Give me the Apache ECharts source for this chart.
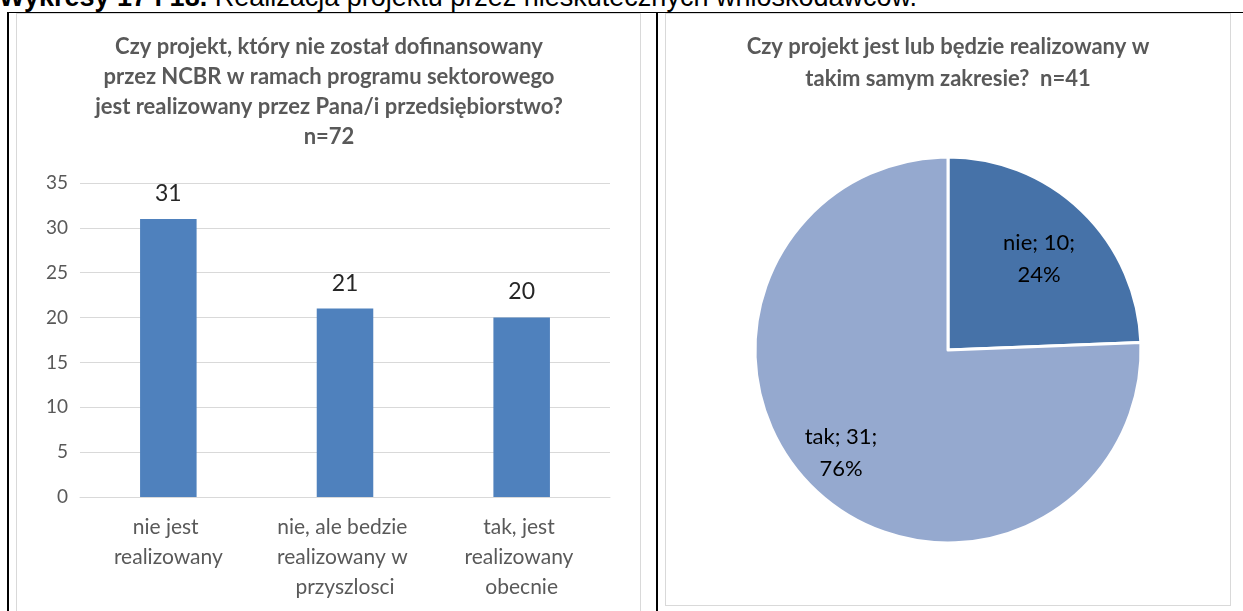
<!DOCTYPE html>
<html>
<head>
<meta charset="utf-8">
<script src="https://cdn.jsdelivr.net/npm/echarts@6/dist/echarts.min.js"></script>
<style>
  html, body { margin:0; padding:0; background:#fff; }
  #wrap { position:relative; width:1243px; height:611px; overflow:hidden; background:#fff; }
  .ln { position:absolute; }
  #heading { position:absolute; left:-1px; top:-16px; font-family:"Liberation Sans", Arial, sans-serif; font-size:27px; line-height:27px; color:#000; white-space:nowrap; }
  #chart { position:absolute; left:0; top:0; width:1243px; height:611px; }
</style>
</head>
<body>
<div id="wrap">
  <div id="heading"><b>Wykresy 17 i 18.</b> Realizacja projektu przez nieskutecznych wnioskodawców.</div>
  <div class="ln" style="left:16px;top:13px;width:623px;height:620px;border:1.5px solid #d9d9d9;"></div>
  <div class="ln" style="left:665px;top:13px;width:563.5px;height:591px;border:1.5px solid #d9d9d9;"></div>
  <div class="ln" style="left:7.25px;top:11.5px;width:1240px;height:1.5px;background:#000;"></div>
  <div class="ln" style="left:7.25px;top:11.5px;width:1.5px;height:600px;background:#000;"></div>
  <div class="ln" style="left:655.75px;top:11.5px;width:2px;height:600px;background:#000;"></div>
  <div id="chart"></div>
</div>
<script>
// ---- data ----
const barTitle = "Czy projekt, który nie został dofinansowany\nprzez NCBR w ramach programu sektorowego\njest realizowany przez Pana/i przedsiębiorstwo?\nn=72";
const barCategories = ["nie jest realizowany", "nie, ale bedzie realizowany w przyszlosci", "tak, jest realizowany obecnie"];
const barValues = [31, 21, 20];
const yTicks = { min: 0, max: 35, interval: 5 };

const pieTitle = "Czy projekt jest lub będzie realizowany w\ntakim samym zakresie?  n=41";
const pieNames = ["nie", "tak"];
const pieValues = [10, 31];

// ---- styles ----
const FONT = "Lato, 'Open Sans', sans-serif";
const pieColors = ["#4672a8", "#95a9cf"];
const pieLabelOffsets = [[22, -19], [-38, 31]];

const chart = echarts.init(document.getElementById('chart'), null, { renderer: 'canvas' });
chart.setOption({
  backgroundColor: 'transparent',
  animation: false,
  textStyle: { fontFamily: FONT },
  graphic: [
    { type: 'text', x: 329, y: 32, style: { text: barTitle, fill: '#595959', font: "bold 22px " + FONT, textAlign: 'center', textVerticalAlign: 'top', lineHeight: 30 } },
    { type: 'text', x: 948, y: 31, style: { text: pieTitle, fill: '#595959', font: "bold 22px " + FONT, textAlign: 'center', textVerticalAlign: 'top', lineHeight: 32 } }
  ],
  grid: { left: 80, top: 183, width: 530, height: 314, containLabel: false },
  xAxis: {
    type: 'category',
    data: barCategories,
    axisLine: { show: true, lineStyle: { color: '#d9d9d9', width: 1 } },
    axisTick: { show: false },
    axisLabel: { color: '#595959', fontSize: 21, fontFamily: FONT, lineHeight: 30, margin: 15, width: 155, overflow: 'break', interval: 0 }
  },
  yAxis: {
    type: 'value',
    min: yTicks.min, max: yTicks.max, interval: yTicks.interval,
    axisLine: { show: false },
    axisTick: { show: false },
    splitLine: { lineStyle: { color: '#d9d9d9', width: 1 } },
    axisLabel: { color: '#595959', fontSize: 19, fontFamily: FONT, margin: 12 }
  },
  series: [
    {
      type: 'bar',
      data: barValues,
      barWidth: '32%',
      itemStyle: { color: '#4f81bd' },
      label: { show: true, position: 'top', distance: 14, color: '#262626', fontSize: 23, fontFamily: FONT }
    },
    {
      type: 'pie',
      center: [948, 350],
      radius: 193,
      startAngle: 90,
      clockwise: true,
      data: pieNames.map((n, i) => ({
        name: n, value: pieValues[i],
        itemStyle: { color: pieColors[i] },
        label: { offset: pieLabelOffsets[i] }
      })),
      itemStyle: { borderColor: '#fff', borderWidth: 3 },
      label: {
        show: true, position: 'inside', color: '#000', fontSize: 22, fontFamily: FONT, lineHeight: 32,
        formatter: p => p.name + '; ' + p.value + ';\n' + Math.round(p.percent) + '%'
      },
      labelLine: { show: false },
      emphasis: { disabled: true }
    }
  ]
});
</script>
</body>
</html>
